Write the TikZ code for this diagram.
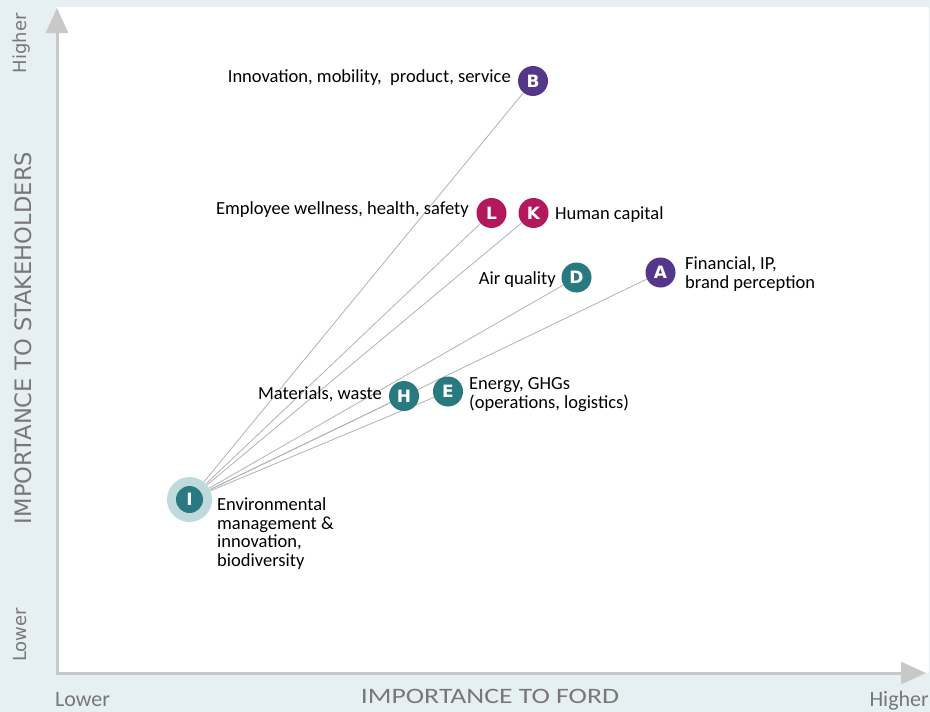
\documentclass[tikz,border=0pt]{standalone}
\usepackage{fontspec}
\setmainfont{Carlito}
\newfontfamily\axisfont{DejaVu Sans}
\newfontfamily\badgefont{DejaVu Sans}
\usetikzlibrary{arrows.meta}
\definecolor{bgblue}{RGB}{230,239,241}
\definecolor{axisgray}{RGB}{200,200,200}
\definecolor{linegray}{RGB}{178,178,178}
\definecolor{labgray}{RGB}{120,120,120}
\definecolor{fpurple}{RGB}{84,54,138}
\definecolor{fmagenta}{RGB}{178,24,92}
\definecolor{fteal}{RGB}{40,121,128}
\definecolor{fhalo}{RGB}{190,218,220}
\pgfdeclarelayer{bglayer}
\pgfsetlayers{bglayer,main}
\begin{document}
\begin{tikzpicture}[x=1pt,y=-1pt,
  badge/.style={circle, minimum size=30pt, inner sep=0pt, text=white,
    font=\badgefont\bfseries\fontsize{17}{17}\selectfont},
  purplebadge/.style={badge, fill=fpurple},
  magentabadge/.style={badge, fill=fmagenta},
  tealbadge/.style={badge, fill=fteal},
  lab/.style={inner sep=0pt, font=\fontsize{18.5}{18.8}\selectfont, align=left},
  conn/.style={draw=linegray, line width=0.8pt},
  axisline/.style={draw=axisgray, line width=3pt, -{Triangle[length=25pt,width=22pt]}},
  xlab/.style={inner sep=0pt, text=labgray, font=\fontsize{22}{22}\selectfont},
  ylab/.style={inner sep=0pt, text=labgray, rotate=90}
]
\useasboundingbox (0,0) rectangle (930,712);
% nodes
\node[purplebadge] (B) at (533,81) {B};
\node[magentabadge] (L) at (491.5,213) {L};
\node[magentabadge] (K) at (533.5,213) {K};
\node[tealbadge] (D) at (576.5,277.5) {D};
\node[purplebadge] (A) at (660.5,272.5) {A};
\node[tealbadge] (H) at (404,396) {H};
\node[tealbadge] (E) at (448,391.5) {E};
\node[circle, fill=fhalo, minimum size=45pt, inner sep=0pt] (I) at (189.5,499.5) {};
\node[tealbadge, minimum size=27pt] (Icore) at (I.center) {I};
% labels (for multi-line labels the base anchor is the last line's baseline)
\node[lab, anchor=base east] (tB) at (511,82) {Innovation, mobility,\ \ product, service};
\node[lab, anchor=base east] (tL) at (469,214) {Employee wellness, health, safety};
\node[lab, anchor=base west] (tK) at (555,219) {Human capital};
\node[lab, anchor=base east] (tD) at (556,284) {Air quality};
\node[lab, anchor=base west] (tA) at (685,288) {Financial, IP,\\brand perception};
\node[lab, anchor=base east] (tH) at (382,399) {Materials, waste};
\node[lab, anchor=base west] (tE) at (469,408) {Energy, GHGs\\(operations, logistics)};
\node[lab, anchor=base west, font=\fontsize{18.5}{18.5}\selectfont] (tI) at (217,566) {Environmental\\management \&\\innovation,\\biodiversity};
% axis labels
\node[xlab, anchor=base west] (xlow) at (55,706) {Lower};
\node[xlab, anchor=base] (xtitle) at (490,703) {\scalebox{1.26}[1]{IMPORTANCE TO FORD}};
\node[xlab, anchor=base east] (xhigh) at (929,706) {Higher};
\node[ylab, anchor=base east, font=\axisfont\fontsize{18}{18}\selectfont] (yhigh) at (27,13) {Higher};
\node[ylab, anchor=base west, font=\axisfont\fontsize{18}{18}\selectfont] (ylow) at (27,662) {Lower};
\node[ylab, anchor=base, font=\axisfont\fontsize{22.6}{22.6}\selectfont] (ytitle) at (31.5,338) {IMPORTANCE TO STAKEHOLDERS};
\begin{pgfonlayer}{bglayer}
  \fill[bgblue] (0,0) rectangle (930,712);
  \fill[white] (57,7) rectangle (929,673);
  \coordinate (O) at (57,673);
  \coordinate (ytip) at (57,8);
  \coordinate (xtip) at (926,673);
  \draw[axisline] ([yshift=-1.5pt]O) -- (ytip);
  \draw[axisline] ([xshift=-1.5pt]O) -- (xtip);
  \foreach \t in {B,L,K,D,A,H,E} \draw[conn] (I) -- (\t);
\end{pgfonlayer}
\end{tikzpicture}
\end{document}
